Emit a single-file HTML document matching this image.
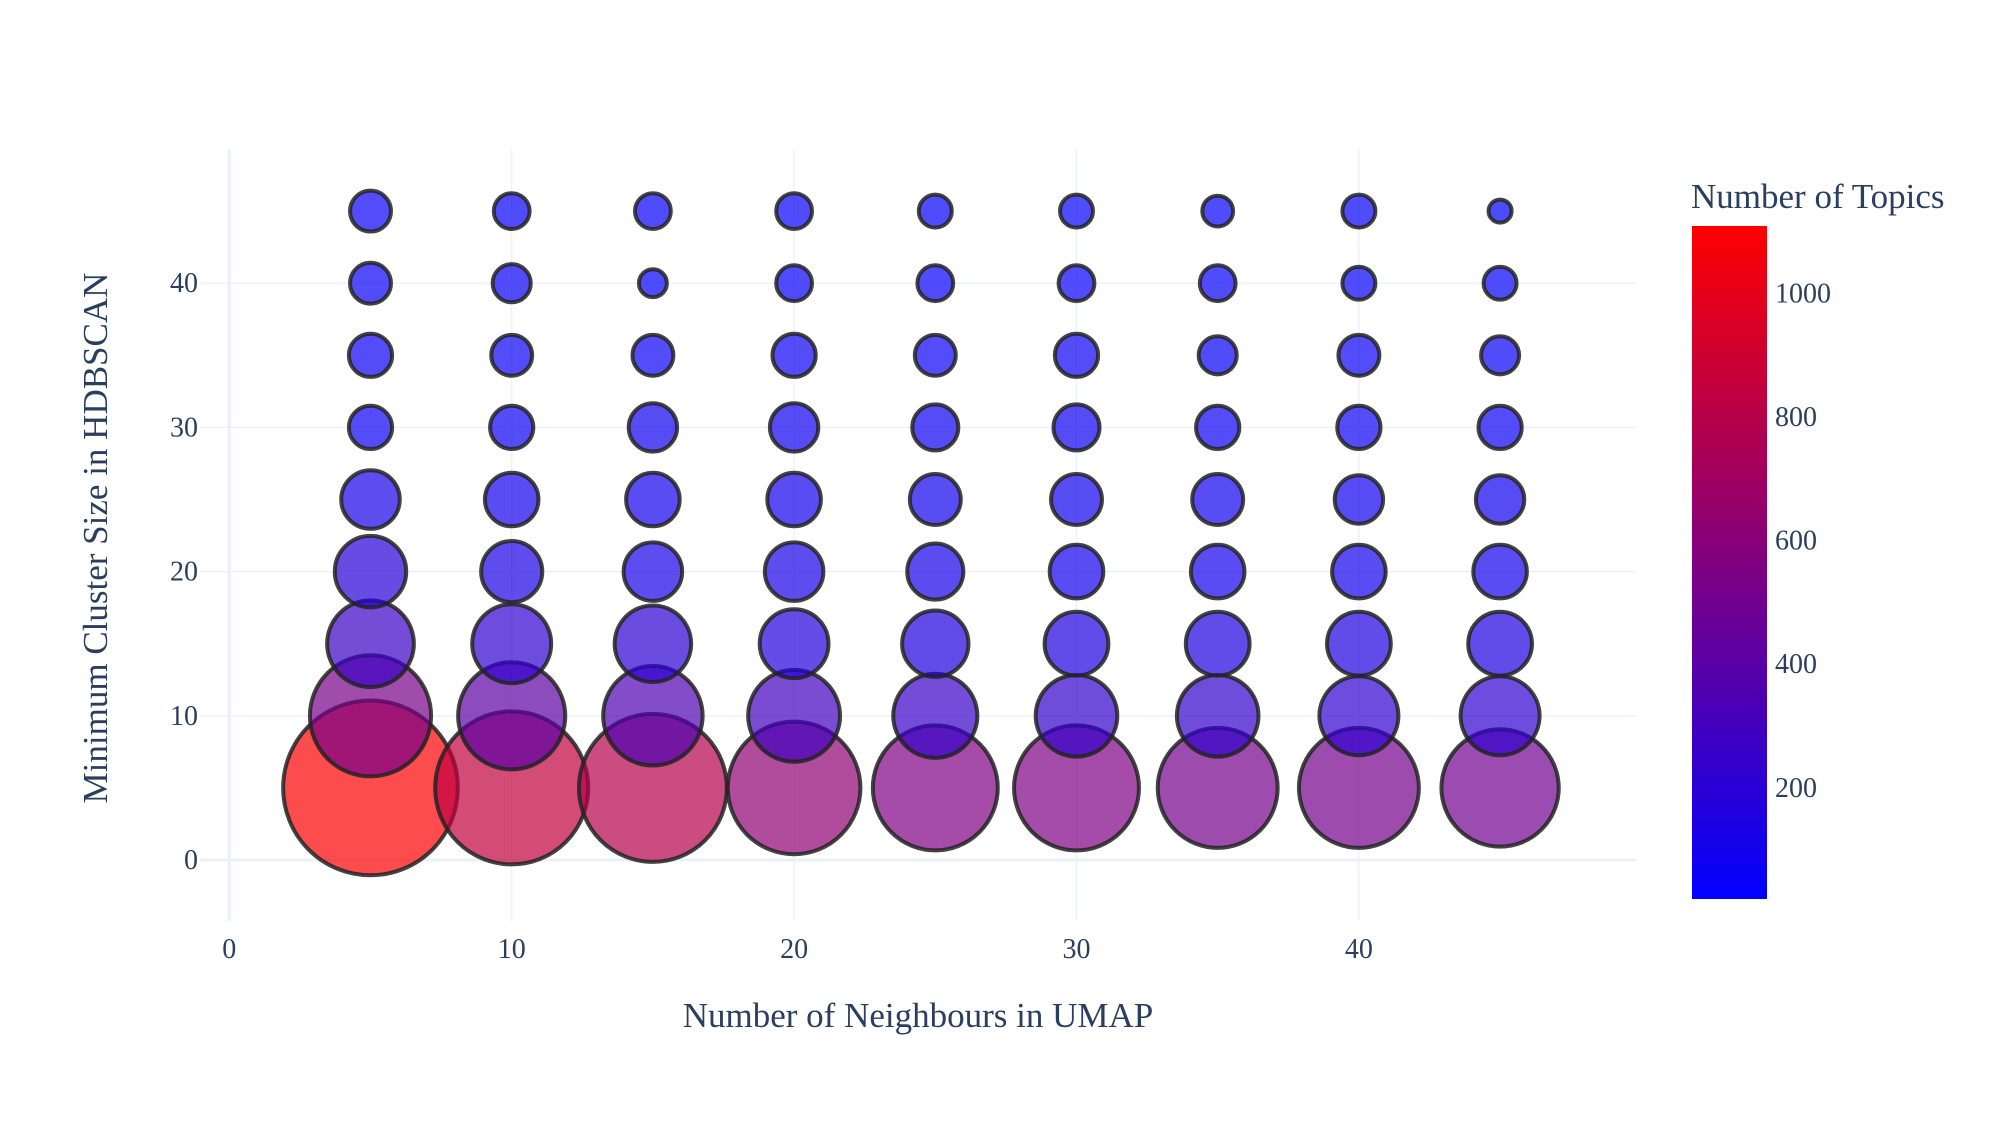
<!DOCTYPE html>
<html><head><meta charset="utf-8"><style>
html,body{margin:0;padding:0;background:#fff;}
svg{display:block;font-family:"Liberation Serif",serif;}
</style></head><body>
<svg id="chart" width="2000" height="1125" viewBox="0 0 2000 1125" xmlns="http://www.w3.org/2000/svg">
<defs><linearGradient id="cbgrad" x1="0" y1="1" x2="0" y2="0"><stop offset="0" stop-color="rgb(0,0,255)"/><stop offset="1" stop-color="rgb(255,0,0)"/></linearGradient></defs>
<g id="grid"></g>
<g id="marks"></g>
<g id="axes"></g>
<text x="918" y="1027" text-anchor="middle" font-size="35" fill="#2a3f5f">Number of Neighbours in UMAP</text>
<text transform="translate(107,538) rotate(-90)" text-anchor="middle" font-size="35" fill="#2a3f5f">Minimum Cluster Size in HDBSCAN</text>
<text x="1691" y="208" font-size="35" fill="#2a3f5f">Number of Topics</text>
<rect x="1692" y="226" width="75" height="673" fill="url(#cbgrad)"/>
<g id="cbticks"></g>
</svg>
<script>
const neighbours = [5,10,15,20,25,30,35,40,45];
const clusterSizes = [5,10,15,20,25,30,35,40,45];
// topics[i][j]: neighbours[i], clusterSizes[j]
const topics = [
 [1095,527,270,183,123,67,67,60,60],
 [840,412,224,134,103,67,60,52,46],
 [785,355,210,123,103,84,60,28,46],
 [631,303,170,123,103,84,67,46,46],
 [560,254,158,113,93,76,60,46,39],
 [560,239,146,103,93,76,67,46,39],
 [516,239,146,103,93,67,52,46,34],
 [516,224,146,103,84,67,60,39,39],
 [494,224,146,103,84,67,52,39,19]
];
const xTicks = [0,10,20,30,40];
const yTicks = [0,10,20,30,40];
const cbTicks = [200,400,600,800,1000];
const cmin = 20, cmax = 1109;

const NS="http://www.w3.org/2000/svg";
const xs = v => 229.3 + v*28.24;
const ys = v => 860 - v*14.42;
const cy = v => 899 - (v-cmin)*(673/(cmax-cmin));
const rad = v => 5.28*Math.sqrt(v)/2;
const col = v => {const t=Math.max(0,Math.min(1,(v-cmin)/(cmax-cmin)));return `rgb(${Math.round(255*t)},0,${Math.round(255*(1-t))})`;};
function mk(tag,attrs,parent){const e=document.createElementNS(NS,tag);for(const k in attrs)e.setAttribute(k,attrs[k]);parent.appendChild(e);return e;}
const grid=document.getElementById('grid'),marks=document.getElementById('marks'),axes=document.getElementById('axes'),cbt=document.getElementById('cbticks');
const L=200,R=1636,T=150,B=921;
xTicks.forEach(v=>{
 const l=mk('line',{x1:xs(v),x2:xs(v),y1:T,y2:B,stroke:'#ebf0f8','stroke-width':v===0?3:1.3},grid);
 
 
 const t=mk('text',{x:xs(v),y:958,'text-anchor':'middle','font-size':28,fill:'#2a3f5f'},axes);t.textContent=v;
 
 
});
yTicks.forEach(v=>{
 const l=mk('line',{x1:L,x2:R,y1:ys(v),y2:ys(v),stroke:'#ebf0f8','stroke-width':v===0?3:1.3},grid);
 
 
 const t=mk('text',{x:198,y:ys(v)+9,'text-anchor':'end','font-size':28,fill:'#2a3f5f'},axes);t.textContent=v;
 
 
});
neighbours.forEach((n,i)=>{
 clusterSizes.forEach((c,j)=>{
  const v=topics[i][j];
  const e=mk('circle',{cx:xs(n),cy:ys(c),r:rad(v),fill:col(v),'fill-opacity':0.7,stroke:'rgb(35,35,35)','stroke-opacity':0.85,'stroke-width':4},marks);
  
  
 });
});
cbTicks.forEach(v=>{
 const t=mk('text',{x:1775,y:cy(v)+9,'font-size':28,fill:'#2a3f5f'},cbt);t.textContent=v;
 
 
});
</script>
</body></html>
